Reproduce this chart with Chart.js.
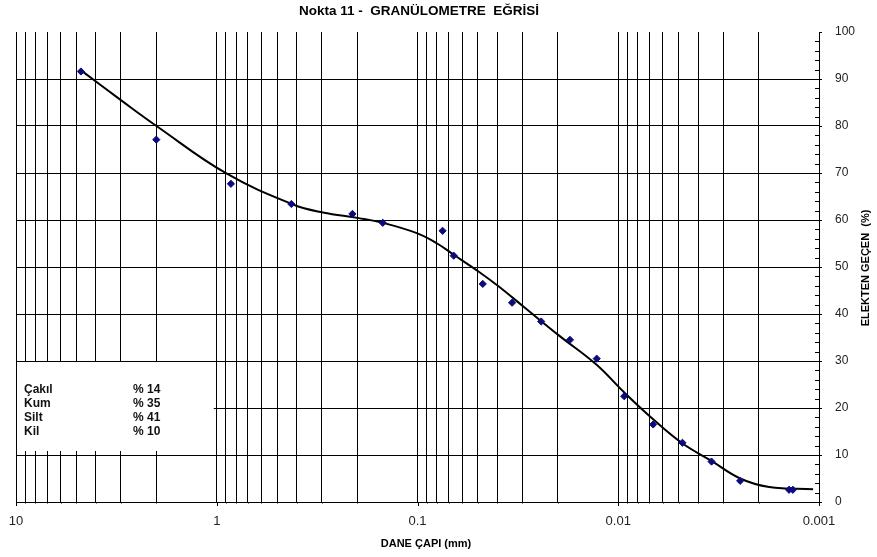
<!DOCTYPE html>
<html lang="tr">
<head>
<meta charset="UTF-8">
<title>Nokta 11 - Granülometre Eğrisi</title>
<script src="https://cdn.jsdelivr.net/npm/chart.js@4.4.0/dist/chart.umd.min.js"></script>
<style>
  html, body { margin: 0; padding: 0; background: #fff; }
  #kutu { width: 877px; height: 557px; }
</style>
</head>
<body>
<div id="kutu"><canvas id="grafik" width="877" height="557"></canvas></div>
<script>
  /* deney noktaları: dane çapı (mm) - elekten geçen (%) */
  var daneCapi = [4.75, 2.0, 0.85, 0.425, 0.211, 0.149, 0.075, 0.066, 0.0473, 0.0338,
                  0.0242, 0.0174, 0.0128, 0.00934, 0.0067, 0.00479, 0.00343, 0.00247, 0.00141, 0.00135];
  var gecen    = [91.6, 77.1, 67.7, 63.4, 61.3, 59.4, 57.7, 52.4, 46.4, 42.4,
                  38.4, 34.5, 30.5, 22.5, 16.5, 12.6, 8.6, 4.5, 2.6, 2.6];

  /* çizilen eğri (grafikten okunan noktalar) */
  var egriCap   = [4.6, 2.98, 1.98, 0.895, 0.417, 0.296, 0.196, 0.149, 0.1008, 0.0798, 0.066,
                   0.0495, 0.0395, 0.0297, 0.0197, 0.0129, 0.00933, 0.0067, 0.0048, 0.00345,
                   0.00247, 0.00177, 0.00107];
  var egriGecen = [91.4, 85.4, 79.9, 69.9, 63.3, 61.6, 60.4, 59.4, 57.2, 55.0, 52.6,
                   49.0, 45.9, 41.6, 35.4, 29.3, 23.3, 17.6, 12.5, 8.8,
                   5.0, 3.2, 2.7];

  /* eksen etiketleri */
  var xEtiketDeger = [10, 1, 0.1, 0.01, 0.001];
  var xEtiket      = ["10", "1", "0.1", "0.01", "0.001"];
  var yEtiket      = [0, 10, 20, 30, 40, 50, 60, 70, 80, 90, 100];

  /* dane dağılımı kutusu */
  var dagilim      = ["Çakıl", "Kum", "Silt", "Kil"];
  var dagilimYuzde = [14, 35, 41, 10];

  var baslik  = "Nokta 11 -  GRANÜLOMETRE  EĞRİSİ";
  var xBaslik = "DANE ÇAPI (mm)";
  var yBaslik = "ELEKTEN GEÇEN  (%)";

  var FONT = "Arial, 'Liberation Sans', sans-serif";

  function onluMu(v) {
    var l = Math.log10(v);
    return Math.abs(l - Math.round(l)) < 1e-6;
  }

  /* log ızgara: her onlukta 1..9 */
  var izgara = [];
  for (var e = -3; e < 1; e++) {
    for (var m = 1; m <= 9; m++) {
      izgara.push(parseFloat((m * Math.pow(10, e)).toPrecision(6)));
    }
  }
  izgara.push(10);

  /*----- metin, kutu ve eksen çentikleri -----*/
  var ekler = {
    id: "ekler",
    beforeDatasetsDraw: function (chart) {
      var ctx = chart.ctx, xs = chart.scales.x, ys = chart.scales.y;
      // dağılım kutusu ızgarayı örter
      var kx0 = xs.left + 1, kx1 = xs.getPixelForValue(1) - 3;
      var ky0 = ys.getPixelForValue(30) + 1, ky1 = ys.getPixelForValue(10) - 4;
      ctx.save();
      ctx.fillStyle = "#fff";
      ctx.fillRect(kx0, ky0, kx1 - kx0, ky1 - ky0);
      ctx.restore();
    },
    afterDraw: function (chart) {
      var ctx = chart.ctx, xs = chart.scales.x, ys = chart.scales.y;
      var ca = chart.chartArea;
      ctx.save();
      ctx.strokeStyle = "#000";
      ctx.lineWidth = 1;

      // alt eksen çentikleri
      ctx.beginPath();
      izgara.forEach(function (v) {
        var px = Math.round(xs.getPixelForValue(v)) + 0.5;
        ctx.moveTo(px, ca.bottom);
        ctx.lineTo(px, ca.bottom + (onluMu(v) ? 4 : 1.5));
      });
      // sağ eksen çentikleri (her %2)
      for (var t = 0; t <= 100; t += 2) {
        var py = Math.round(ys.getPixelForValue(t)) + 0.5;
        if (t % 10 === 0) {
          ctx.moveTo(ca.right, py); ctx.lineTo(ca.right + 3, py);
        } else {
          ctx.moveTo(ca.right - 4, py); ctx.lineTo(ca.right, py);
        }
      }
      ctx.stroke();

      // başlık
      ctx.fillStyle = "#000";
      ctx.textAlign = "center";
      ctx.textBaseline = "middle";
      ctx.font = "bold 13.5px " + FONT;
      ctx.fillText(baslik, 419, 11);

      // x ekseni başlığı
      ctx.font = "bold 11px " + FONT;
      ctx.fillText(xBaslik, 426, 544);

      // y ekseni başlığı
      ctx.save();
      ctx.translate(866, 268);
      ctx.rotate(-Math.PI / 2);
      ctx.fillText(yBaslik, 0, 0);
      ctx.restore();

      // dağılım yazıları
      ctx.textAlign = "left";
      ctx.font = "bold 12px " + FONT;
      ctx.fillStyle = "#111";
      var satirY = [390, 403.5, 418, 432];
      dagilim.forEach(function (ad, i) {
        ctx.fillText(ad, 24, satirY[i]);
        ctx.fillText("% " + dagilimYuzde[i], 133, satirY[i]);
      });
      ctx.restore();
    }
  };

  var ctx = document.getElementById("grafik").getContext("2d");

  new Chart(ctx, {
    data: {
      datasets: [
        {
          type: "scatter",
          label: "Deney",
          data: daneCapi.map(function (d, i) { return { x: d, y: gecen[i] }; }),
          pointStyle: "rectRot",
          pointRadius: 3.6,
          backgroundColor: "#0b0b7d",
          borderColor: "#0b0b7d",
          borderWidth: 1,
          order: 0
        },
        {
          type: "line",
          label: "Eğri",
          data: egriCap.map(function (d, i) { return { x: d, y: egriGecen[i] }; }),
          borderColor: "#000",
          borderWidth: 2,
          pointRadius: 0,
          tension: 0.4,
          fill: false,
          order: 1
        }
      ]
    },
    options: {
      responsive: false,
      animation: false,
      events: [],
      layout: { padding: { left: 16, top: 32, right: 0, bottom: 0 } },
      plugins: {
        legend: { display: false },
        tooltip: { enabled: false },
        title: { display: false }
      },
      scales: {
        x: {
          type: "logarithmic",
          reverse: true,
          min: 0.001,
          max: 10,
          afterBuildTicks: function (scale) {
            scale.ticks = izgara.map(function (v) { return { value: v }; });
          },
          afterFit: function (scale) { scale.height = 55; },
          grid: { color: "#000", lineWidth: 1, drawTicks: false },
          border: { display: true, color: "#000", width: 1 },
          ticks: {
            autoSkip: false,
            maxRotation: 0,
            padding: 12,
            color: "#222",
            font: { family: FONT, size: 13 },
            callback: function (v) {
              for (var i = 0; i < xEtiketDeger.length; i++) {
                if (Math.abs(Math.log10(v) - Math.log10(xEtiketDeger[i])) < 1e-6) return xEtiket[i];
              }
              return "";
            }
          }
        },
        y: {
          type: "linear",
          position: "right",
          min: 0,
          max: 100,
          afterFit: function (scale) { scale.width = 58; },
          grid: {
            drawTicks: false,
            lineWidth: 1,
            color: function (c) {
              var v = c.tick ? c.tick.value : 0;
              return (v % 10 === 0 && v !== 0 && v !== 100) ? "#000" : "rgba(0,0,0,0)";
            }
          },
          border: { display: true, color: "#000", width: 1 },
          ticks: {
            stepSize: 2,
            autoSkip: false,
            padding: 16,
            color: "#222",
            font: { family: FONT, size: 12 },
            callback: function (v) {
              return yEtiket.indexOf(v) >= 0 ? String(v) : "";
            }
          }
        }
      }
    },
    plugins: [ekler]
  });
</script>
</body>
</html>
